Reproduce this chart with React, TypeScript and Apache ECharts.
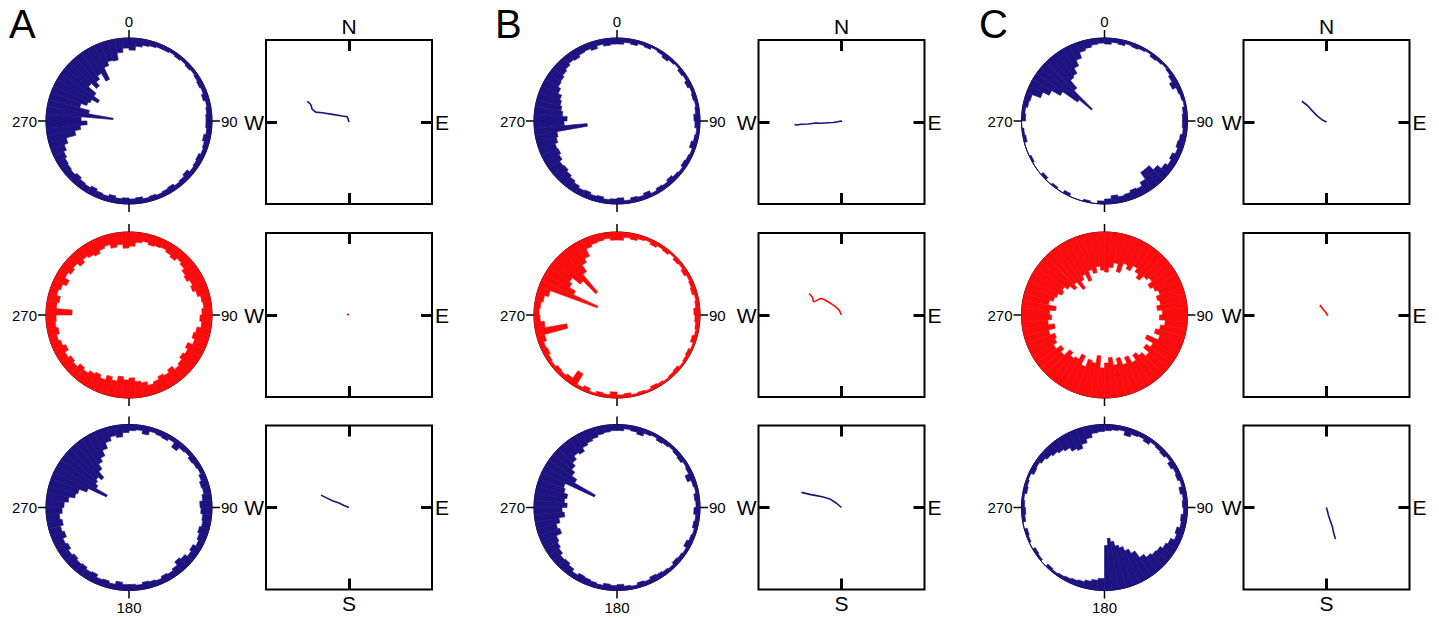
import React, { useEffect, useRef } from 'react';
import * as echarts from 'echarts';

// ---------- data ----------
// 72 angular bins of 5 degrees (compass angle, clockwise from north)
const BIN_LABELS = Array.from({ length: 72 }, (_, i) => String(i * 5));

// radial depth of each bin, counted inward from the circle (0..83)
const DEPTH_A1 = [
  12, 8, 6, 5, 4, 4, 3, 4, 3, 4, 3, 4, 5, 4, 6, 4, 5, 6,
  6, 5, 7, 5, 4, 6, 5, 4, 7, 5, 4, 6, 5, 4, 5, 4, 6, 5,
  6, 5, 7, 5, 6, 8, 6, 7, 9, 7, 8, 9, 11, 14, 18, 28, 34, 41,
  35, 67, 42, 32, 38, 40, 47, 40, 30, 37, 32, 28, 37, 24, 20, 21, 14, 10,
];
const DEPTH_A2 = [
  14, 10, 8, 10, 9, 8, 10, 12, 9, 11, 14, 16, 13, 15, 12, 9, 8, 10,
  12, 10, 14, 16, 13, 18, 15, 17, 14, 12, 16, 13, 15, 12, 10, 14, 16, 20,
  18, 21, 16, 19, 14, 17, 15, 12, 14, 10, 12, 9, 13, 10, 8, 11, 9, 10,
  26, 10, 12, 8, 10, 14, 9, 12, 10, 14, 11, 13, 15, 12, 10, 14, 12, 16,
];
const DEPTH_A3 = [
  6, 5, 8, 4, 5, 6, 4, 9, 5, 4, 6, 5, 4, 6, 8, 7, 9, 12,
  11, 9, 8, 10, 8, 6, 9, 7, 10, 12, 8, 6, 7, 5, 6, 7, 5, 6,
  6, 8, 5, 7, 6, 9, 8, 10, 9, 11, 9, 12, 10, 14, 12, 15, 13, 16,
  18, 22, 28, 30, 38, 58, 45, 42, 40, 44, 36, 30, 26, 20, 14, 10, 12, 8,
];
const DEPTH_B1 = [
  6, 4, 5, 3, 4, 2, 3, 5, 3, 2, 4, 3, 5, 3, 4, 3, 4, 6,
  5, 3, 4, 6, 3, 4, 5, 3, 4, 6, 4, 5, 3, 6, 4, 5, 3, 6,
  5, 4, 6, 5, 7, 6, 8, 10, 12, 14, 13, 16, 18, 17, 20, 22, 53, 30,
  33, 28, 26, 24, 22, 18, 15, 14, 12, 10, 8, 9, 7, 6, 8, 5, 7, 6,
];
const DEPTH_B2 = [
  8, 5, 6, 4, 3, 5, 3, 4, 2, 4, 3, 5, 3, 4, 5, 3, 4, 6,
  5, 4, 3, 5, 2, 4, 3, 2, 4, 3, 2, 3, 4, 2, 3, 2, 4, 3,
  6, 3, 4, 2, 5, 3, 15, 6, 4, 5, 3, 4, 6, 5, 8, 32, 10, 6,
  5, 6, 8, 12, 62, 35, 28, 25, 35, 53, 30, 22, 18, 10, 8, 7, 6, 8,
];
const DEPTH_B3 = [
  6, 4, 5, 7, 4, 3, 5, 4, 3, 4, 5, 3, 4, 8, 4, 3, 5, 4,
  6, 4, 5, 3, 4, 6, 3, 4, 5, 3, 4, 5, 6, 4, 5, 3, 4, 6,
  5, 6, 4, 5, 6, 7, 5, 8, 10, 9, 12, 14, 16, 22, 20, 24, 30, 28,
  33, 30, 32, 28, 26, 58, 34, 28, 24, 20, 16, 18, 14, 12, 10, 8, 7, 6,
];
const DEPTH_C1 = [
  6, 4, 5, 3, 4, 3, 2, 4, 3, 2, 3, 5, 8, 4, 3, 2, 4, 5,
  5, 4, 6, 7, 5, 8, 6, 9, 14, 20, 20, 12, 8, 9, 7, 6, 8, 5,
  3, 0, 2, 0, 0, 3, 0, 2, 0, 3, 0, 0, 2, 0, 0, 3, 2, 0,
  4, 3, 5, 6, 15, 22, 32, 50, 66, 40, 30, 28, 22, 16, 10, 8, 6, 5,
];
const DEPTH_C2 = [
  40, 35, 30, 38, 28, 32, 26, 30, 34, 28, 25, 30, 27, 24, 28, 26, 30, 25,
  28, 22, 26, 30, 24, 36, 27, 32, 25, 30, 34, 28, 36, 30, 38, 32, 40, 35,
  30, 42, 34, 36, 28, 38, 32, 30, 34, 26, 30, 24, 28, 30, 25, 32, 26, 30,
  28, 34, 26, 30, 32, 36, 34, 38, 44, 40, 50, 42, 38, 46, 36, 40, 34, 38,
];
const DEPTH_C3 = [
  6, 5, 4, 8, 5, 4, 6, 3, 4, 5, 3, 6, 4, 5, 3, 6, 4, 5,
  4, 6, 5, 8, 6, 10, 12, 15, 16, 18, 22, 30, 35, 40, 43, 48, 52, 45,
  12, 10, 8, 6, 5, 4, 3, 2, 3, 0, 2, 3, 0, 2, 3, 0, 3, 4,
  3, 2, 4, 3, 2, 5, 4, 6, 8, 10, 12, 14, 18, 20, 16, 12, 8, 7,
];

// trajectories: [east, north] offsets from the box centre
const TRAJ_A1 = [[0, 0], [-1.7, 5.3], [-6.7, 6], [-16.7, 7.7], [-26.7, 9.3], [-33.3, 10], [-36.7, 12.7], [-38.3, 17.7], [-41.7, 21]];
const TRAJ_A2 = [[0, 0], [-1, 0.5], [-2, 1]];
const TRAJ_A3 = [[0, 0], [-5, 2], [-10, 4.5], [-16, 6.5], [-22, 9.5], [-28, 12.5]];
const TRAJ_B1 = [[0, 0], [0, 1], [-8, -0.5], [-14, -0.8], [-20, -1.3], [-26, -1], [-33, -2], [-40, -2.3], [-45, -3], [-47, -2.5]];
const TRAJ_B2 = [[0, 0], [-2.3, 5], [-5.7, 8.3], [-10.7, 11.7], [-17.3, 15.7], [-20.7, 16.7], [-25.7, 14.3], [-28, 13.3], [-29, 17.7], [-32.3, 21.7]];
const TRAJ_B3 = [[0, 0], [-5, 4.3], [-11.7, 8.7], [-18.3, 10.7], [-25, 12], [-31.7, 13.3], [-40, 15.3]];
const TRAJ_C1 = [[0, 0], [-4, 2], [-9, 6], [-14, 11], [-19, 16.7], [-24.7, 21]];
const TRAJ_C2 = [[1.5, -0.7], [-1.3, 3.3], [-4, 6.7], [-6.7, 10]];
const TRAJ_C3 = [[0, 0], [1, -4], [2, -8], [4, -14], [6, -20], [7, -25], [9, -32]];

const PANEL_LETTERS = ['A', 'B', 'C'];
const ANGLE_LABELS_BY_ROW = [
  { 0: '0', 90: '90', 270: '270' },
  { 90: '90', 270: '270' },
  { 90: '90', 180: '180', 270: '270' },
];

// ---------- styles / layout ----------
const FONT = '"Liberation Sans", Arial, Helvetica, sans-serif';
const BLUE = '#1c1280';
const RED = '#fa0c0c';
const R = 83;
const CIRCLE_CX = [129, 617, 1104.5];
const ROW_CY = [121, 315, 507.5];
const BOX_LEFT = [266, 758.5, 1243.5];
const BOX_TOP = [40, 233, 425.5];
const BOX_W = 166;
const BOX_H = 164;
const LETTER_X = [9, 495, 979];

const PANELS = [
  { col: 0, row: 0, depth: DEPTH_A1, traj: TRAJ_A1, color: BLUE },
  { col: 0, row: 1, depth: DEPTH_A2, traj: TRAJ_A2, color: RED },
  { col: 0, row: 2, depth: DEPTH_A3, traj: TRAJ_A3, color: BLUE },
  { col: 1, row: 0, depth: DEPTH_B1, traj: TRAJ_B1, color: BLUE },
  { col: 1, row: 1, depth: DEPTH_B2, traj: TRAJ_B2, color: RED },
  { col: 1, row: 2, depth: DEPTH_B3, traj: TRAJ_B3, color: BLUE },
  { col: 2, row: 0, depth: DEPTH_C1, traj: TRAJ_C1, color: BLUE },
  { col: 2, row: 1, depth: DEPTH_C2, traj: TRAJ_C2, color: RED },
  { col: 2, row: 2, depth: DEPTH_C3, traj: TRAJ_C3, color: BLUE },
];

function buildOption() {
  const n = PANELS.length;
  const polar: any[] = [];
  const angleAxis: any[] = [];
  const radiusAxis: any[] = [];
  const grid: any[] = [];
  const xAxis: any[] = [];
  const yAxis: any[] = [];
  const series: any[] = [];

  // data polars 0..n-1
  PANELS.forEach((p, k) => {
    polar.push({ center: [CIRCLE_CX[p.col], ROW_CY[p.row]], radius: R });
    angleAxis.push({
      polarIndex: k, type: 'category', data: BIN_LABELS, startAngle: 90, clockwise: true,
      boundaryGap: true, show: false, axisLine: { show: false }, axisTick: { show: false },
      axisLabel: { show: false }, splitLine: { show: false },
    });
    radiusAxis.push({
      polarIndex: k, type: 'value', min: 0, max: R, show: false,
      axisLine: { show: false }, axisTick: { show: false }, axisLabel: { show: false }, splitLine: { show: false },
    });
    series.push({
      type: 'bar', coordinateSystem: 'polar', polarIndex: k, stack: 'st' + k,
      data: p.depth.map((d) => R - d), barCategoryGap: '0%', silent: true,
      itemStyle: { color: 'rgba(0,0,0,0)' }, z: 2,
    });
    series.push({
      type: 'bar', coordinateSystem: 'polar', polarIndex: k, stack: 'st' + k,
      data: p.depth, barCategoryGap: '0%', silent: true,
      itemStyle: { color: p.color, borderColor: p.color, borderWidth: 0.6 }, z: 3,
    });
  });

  // axis polars n..2n-1 (circle, ticks and angle labels)
  PANELS.forEach((p, k) => {
    const labels: any = ANGLE_LABELS_BY_ROW[p.row];
    polar.push({ center: [CIRCLE_CX[p.col], ROW_CY[p.row]], radius: R });
    angleAxis.push({
      polarIndex: n + k, type: 'value', min: 0, max: 360, interval: 90, startAngle: 90, clockwise: true,
      axisLine: { show: true, lineStyle: { color: '#000', width: 1 } },
      axisTick: { show: true, length: 8, lineStyle: { color: '#000', width: 1.5 } },
      axisLabel: {
        show: true, margin: 9, fontSize: 15, color: '#000', fontFamily: FONT,
        formatter: (v: number) => (v === 360 ? '' : labels[v] || ''),
      },
      splitLine: { show: false }, z: 1,
    });
    radiusAxis.push({
      polarIndex: n + k, type: 'value', min: 0, max: 1, show: false,
      axisLine: { show: false }, axisTick: { show: false }, axisLabel: { show: false }, splitLine: { show: false },
    });
  });

  // trajectory boxes
  const tickStyle = { show: true, inside: true, length: 11, lineStyle: { color: '#000', width: 3 } };
  const compassLabel = (text: string, show: boolean, margin: number) => ({
    show, margin, fontSize: 21, color: '#000', fontFamily: FONT,
    formatter: (v: number) => (v === 0 ? text : ''),
  });
  PANELS.forEach((p, k) => {
    grid.push({
      left: BOX_LEFT[p.col], top: BOX_TOP[p.row], width: BOX_W, height: BOX_H,
      show: true, borderColor: '#000', borderWidth: 2, backgroundColor: 'rgba(0,0,0,0)', containLabel: false,
    });
    xAxis.push({
      gridIndex: k, type: 'value', position: 'top', min: -83, max: 83, interval: 83,
      axisLine: { show: false, onZero: false }, axisTick: { ...tickStyle, customValues: [0] },
      axisLabel: { ...compassLabel('N', p.row === 0, 3), customValues: [0] }, splitLine: { show: false },
    });
    xAxis.push({
      gridIndex: k, type: 'value', position: 'bottom', min: -83, max: 83, interval: 83,
      axisLine: { show: false, onZero: false }, axisTick: { ...tickStyle, customValues: [0] },
      axisLabel: { ...compassLabel('S', p.row === 2, 3), customValues: [0] }, splitLine: { show: false },
    });
    yAxis.push({
      gridIndex: k, type: 'value', position: 'left', min: -83, max: 83, interval: 83,
      axisLine: { show: false, onZero: false }, axisTick: { ...tickStyle, customValues: [0] },
      axisLabel: { ...compassLabel('W', true, 2), customValues: [0] }, splitLine: { show: false },
    });
    yAxis.push({
      gridIndex: k, type: 'value', position: 'right', min: -83, max: 83, interval: 83,
      axisLine: { show: false, onZero: false }, axisTick: { ...tickStyle, customValues: [0] },
      axisLabel: { ...compassLabel('E', true, 3), customValues: [0] }, splitLine: { show: false },
    });
    series.push({
      type: 'line', xAxisIndex: 2 * k + 1, yAxisIndex: 2 * k, data: p.traj,
      symbol: 'none', showSymbol: false, silent: true,
      lineStyle: { color: p.color, width: 1.6 }, z: 5,
    });
  });

  const graphic = PANEL_LETTERS.map((t, i) => ({
    type: 'text', left: LETTER_X[i], top: 4,
    style: { text: t, fontSize: 40, fontFamily: FONT, fill: '#000' },
  }));

  return {
    animation: false,
    backgroundColor: '#fff',
    polar, angleAxis, radiusAxis, grid, xAxis, yAxis, series, graphic,
  };
}

export default function App() {
  const ref = useRef<HTMLDivElement>(null);
  useEffect(() => {
    if (!ref.current) return;
    const chart = echarts.init(ref.current, undefined, { renderer: 'svg' });
    chart.setOption(buildOption() as any);
    return () => chart.dispose();
  }, []);
  return (
    <div
      ref={ref}
      style={{ position: 'absolute', left: 0, top: 0, width: 1439, height: 618 }}
    />
  );
}
